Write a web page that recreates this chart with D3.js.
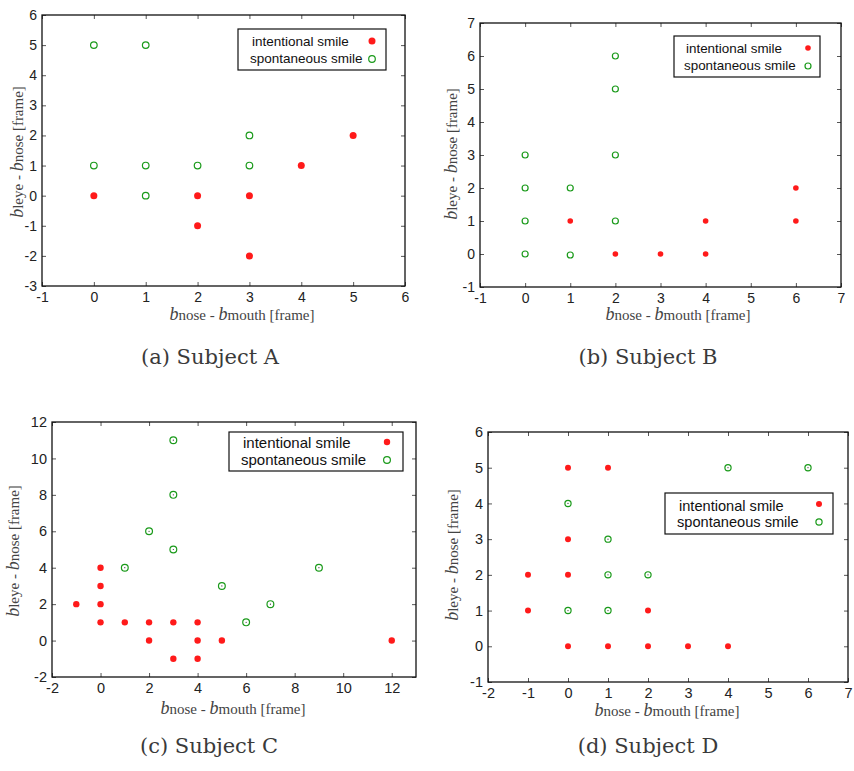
<!DOCTYPE html>
<html>
<head>
<meta charset="utf-8">
<script src="https://cdn.jsdelivr.net/npm/d3@7"></script>
<style>
  html, body { margin: 0; padding: 0; background: #fff; }
  svg { display: block; }
</style>
</head>
<body>
<div id="chart"></div>
<script>
// Datos: [b_nose - b_mouth, b_leye - b_nose]
const subjectA_intentional = [[0, 0], [2, 0], [2, -1], [3, 0], [3, -2], [4, 1], [5, 2]];
const subjectA_spontaneous = [[0, 5], [1, 5], [0, 1], [1, 1], [1, 0], [2, 1], [3, 1], [3, 2]];

const subjectB_intentional = [[1, 1], [2, 0], [3, 0], [4, 0], [4, 1], [6, 1], [6, 2]];
const subjectB_spontaneous = [[0, 0], [0, 1], [0, 2], [0, 3], [1, -0.03], [1, 2], [2, 1], [2, 3], [2, 5], [2, 6]];

const subjectC_intentional = [[-1, 2], [0, 1], [0, 2], [0, 3], [0, 4], [1, 1], [2, 1], [2, 0], [3, 1], [3, -1],
                              [4, 1], [4, 0], [4, -1], [5, 0], [12, 0]];
const subjectC_spontaneous = [[1, 4], [2, 6], [3, 11], [3, 8], [3, 5], [5, 3], [6, 1], [7, 2], [9, 4]];

const subjectD_intentional = [[0, 5], [1, 5], [0, 3], [-1, 2], [0, 2], [-1, 1], [2, 1], [0, 0], [1, 0], [2, 0], [3, 0], [4, 0]];
const subjectD_spontaneous = [[0, 4], [1, 3], [1, 2], [2, 2], [0, 1], [1, 1], [4, 5], [6, 5]];

// Ticks de cada panel
const ticksA_x = [-1, 0, 1, 2, 3, 4, 5, 6];
const ticksA_y = [-3, -2, -1, 0, 1, 2, 3, 4, 5, 6];
const ticksB_x = [-1, 0, 1, 2, 3, 4, 5, 6, 7];
const ticksB_y = [-1, 0, 1, 2, 3, 4, 5, 6, 7];
const ticksC_x = [-2, 0, 2, 4, 6, 8, 10, 12];
const ticksC_y = [-2, 0, 2, 4, 6, 8, 10, 12];
const ticksD_x = [-2, -1, 0, 1, 2, 3, 4, 5, 6, 7];
const ticksD_y = [-1, 0, 1, 2, 3, 4, 5, 6];

const captions = ['(a) Subject A', '(b) Subject B', '(c) Subject C', '(d) Subject D'];
const legendLabels = ['intentional smile', 'spontaneous smile'];

const RED = '#ff1a1a';
const GREEN = '#1a9a1a';

const svg = d3.select('#chart').append('svg')
    .attr('width', 854)
    .attr('height', 771);

// Configuración de layout por panel (en píxeles)
const panels = [
    {
        intentional: subjectA_intentional, spontaneous: subjectA_spontaneous,
        frame: { l: 42, t: 15, r: 405, b: 286 }, xDom: [-1, 6], yDom: [-3, 6],
        xTicks: ticksA_x, yTicks: ticksA_y, tickFont: 14, rRed: 3.5, rGreen: 3.3, dot: false,
        legend: { x0: 238, y0: 29, x1: 386, y1: 70, tx: [252, 250], ty: [46, 63], mx: 372, my: [41, 59], font: 13.5 },
        xLabel: [242, 320], yLabel: [23, 152], caption: [210, 364]
    },
    {
        intentional: subjectB_intentional, spontaneous: subjectB_spontaneous,
        frame: { l: 480, t: 23, r: 841, b: 287 }, xDom: [-1, 7], yDom: [-1, 7],
        xTicks: ticksB_x, yTicks: ticksB_y, tickFont: 14, rRed: 2.8, rGreen: 3, dot: false,
        legend: { x0: 674, y0: 36, x1: 820, y1: 77, tx: [686, 684], ty: [53, 70], mx: 808, my: [48, 66], font: 13.4 },
        xLabel: [678, 320], yLabel: [457, 154], caption: [648, 364]
    },
    {
        intentional: subjectC_intentional, spontaneous: subjectC_spontaneous,
        frame: { l: 52, t: 422, r: 416, b: 677 }, xDom: [-2, 13], yDom: [-2, 12],
        xTicks: ticksC_x, yTicks: ticksC_y, tickFont: 14.5, rRed: 3.2, rGreen: 3.4, dot: true,
        legend: { x0: 229, y0: 432, x1: 403, y1: 471, tx: [243, 241], ty: [448, 465], mx: 387, my: [442, 460], font: 15 },
        xLabel: [233, 714], yLabel: [19, 551], caption: [209, 753]
    },
    {
        intentional: subjectD_intentional, spontaneous: subjectD_spontaneous,
        frame: { l: 488, t: 432, r: 848, b: 682 }, xDom: [-2, 7], yDom: [-1, 6],
        xTicks: ticksD_x, yTicks: ticksD_y, tickFont: 14.5, rRed: 3, rGreen: 3.1, dot: true,
        legend: { x0: 665, y0: 493, x1: 833, y1: 534, tx: [679, 677], ty: [511, 527], mx: 819, my: [504, 522], font: 14.6 },
        xLabel: [667, 716], yLabel: [458, 555], caption: [648, 753]
    }
];

panels.forEach((p, i) => drawPanel(p, captions[i]));

function drawPanel(p, caption) {
    const f = p.frame;
    const x = d3.scaleLinear().domain(p.xDom).range([f.l, f.r]);
    const y = d3.scaleLinear().domain(p.yDom).range([f.b, f.t]);
    const g = svg.append('g');
    const tickLen = 4;
    const fmt = d => String(d); // guion simple como en la figura original

    // Ejes con ticks hacia dentro (estilo gnuplot), espejados arriba y a la derecha
    const styleAxis = sel => {
        sel.select('.domain').remove();
        sel.selectAll('.tick line').attr('stroke', '#555').attr('stroke-width', 1);
        sel.selectAll('.tick text')
            .attr('fill', '#222')
            .style('font-family', 'Liberation Sans, Arial, sans-serif')
            .style('font-size', p.tickFont + 'px');
    };

    g.append('g').attr('transform', `translate(0,${f.b})`)
        .call(d3.axisBottom(x).tickValues(p.xTicks).tickSize(-tickLen).tickPadding(tickLen + 2).tickFormat(fmt))
        .call(styleAxis)
        .selectAll('.tick text').attr('dy', '0.71em');
    g.append('g').attr('transform', `translate(0,${f.t})`)
        .call(d3.axisTop(x).tickValues(p.xTicks).tickSize(-tickLen).tickFormat(''))
        .call(styleAxis);
    g.append('g').attr('transform', `translate(${f.l},0)`)
        .call(d3.axisLeft(y).tickValues(p.yTicks).tickSize(-tickLen).tickPadding(tickLen + 1).tickFormat(fmt))
        .call(styleAxis);
    g.append('g').attr('transform', `translate(${f.r},0)`)
        .call(d3.axisRight(y).tickValues(p.yTicks).tickSize(-tickLen).tickFormat(''))
        .call(styleAxis);

    // Marco
    g.append('rect')
        .attr('x', f.l).attr('y', f.t)
        .attr('width', f.r - f.l).attr('height', f.b - f.t)
        .attr('fill', 'none').attr('stroke', '#111').attr('stroke-width', 1.3);

    // Puntos
    g.selectAll('.intentional').data(p.intentional).enter()
        .append('circle').attr('class', 'intentional')
        .attr('cx', d => x(d[0])).attr('cy', d => y(d[1]))
        .attr('r', p.rRed).attr('fill', RED);

    g.selectAll('.spontaneous').data(p.spontaneous).enter()
        .append('circle').attr('class', 'spontaneous')
        .attr('cx', d => x(d[0])).attr('cy', d => y(d[1]))
        .attr('r', p.rGreen).attr('fill', 'none').attr('stroke', GREEN).attr('stroke-width', 1.2);

    if (p.dot) {
        g.selectAll('.sdot').data(p.spontaneous).enter()
            .append('circle').attr('class', 'sdot')
            .attr('cx', d => x(d[0])).attr('cy', d => y(d[1]))
            .attr('r', 0.6).attr('fill', '#333');
    }

    // Leyenda
    const L = p.legend;
    g.append('rect')
        .attr('x', L.x0).attr('y', L.y0)
        .attr('width', L.x1 - L.x0).attr('height', L.y1 - L.y0)
        .attr('fill', '#fff').attr('stroke', '#111').attr('stroke-width', 1.2);
    legendLabels.forEach((lab, k) => {
        g.append('text')
            .attr('x', L.tx[k]).attr('y', L.ty[k])
            .attr('fill', '#111')
            .style('font-family', 'Liberation Sans, Arial, sans-serif')
            .style('font-size', L.font + 'px')
            .text(lab);
    });
    g.append('circle').attr('cx', L.mx).attr('cy', L.my[0]).attr('r', p.rRed).attr('fill', RED);
    g.append('circle').attr('cx', L.mx).attr('cy', L.my[1]).attr('r', p.rGreen)
        .attr('fill', 'none').attr('stroke', GREEN).attr('stroke-width', 1.2);

    // Etiquetas de ejes con la "b" en cursiva
    const labelParts = (sel, parts) => {
        parts.forEach(([txt, italic]) => {
            sel.append('tspan')
                .style('font-style', italic ? 'italic' : 'normal')
                .style('font-size', italic ? '18px' : '15px')
                .text(txt);
        });
    };

    const xl = g.append('text')
        .attr('x', p.xLabel[0]).attr('y', p.xLabel[1])
        .attr('text-anchor', 'middle').attr('fill', '#444')
        .style('font-family', 'Liberation Serif, Times New Roman, serif');
    labelParts(xl, [['b', true], ['nose - ', false], ['b', true], ['mouth [frame]', false]]);

    const yl = g.append('text')
        .attr('transform', `translate(${p.yLabel[0]},${p.yLabel[1]}) rotate(-90)`)
        .attr('text-anchor', 'middle').attr('fill', '#444')
        .style('font-family', 'Liberation Serif, Times New Roman, serif');
    labelParts(yl, [['b', true], ['leye - ', false], ['b', true], ['nose [frame]', false]]);

    // Subtítulo del panel
    svg.append('text')
        .attr('x', p.caption[0]).attr('y', p.caption[1])
        .attr('text-anchor', 'middle').attr('fill', '#3a3a3a')
        .style('font-family', 'DejaVu Serif, serif')
        .style('font-size', '21px')
        .text(caption);
}
</script>
</body>
</html>
